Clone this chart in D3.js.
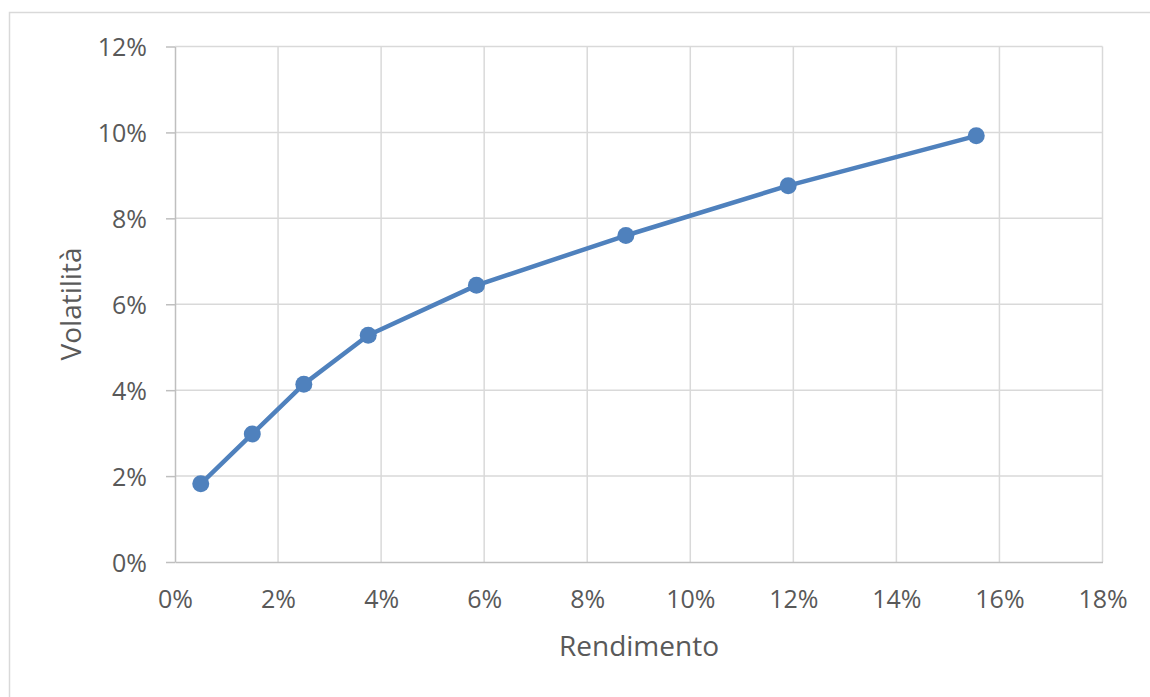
<!DOCTYPE html>
<html>
<head>
<meta charset="utf-8">
<script src="https://cdn.jsdelivr.net/npm/d3@7"></script>
<style>
  html, body { margin: 0; padding: 0; background: #fff; }
  svg { display: block; }
  text { font-family: "Open Sans", sans-serif; fill: #595959; }
</style>
</head>
<body>
<svg id="chart" width="1150" height="697"></svg>
<script>
// Rendimento (x) and Volatilità (y) of each portfolio, in percent
const rendimento = [0.5, 1.5, 2.5, 3.75, 5.85, 8.75, 11.9, 15.55];
const volatilita = [1.82, 2.98, 4.14, 5.28, 6.44, 7.60, 8.76, 9.92];
const xTicks = [0, 2, 4, 6, 8, 10, 12, 14, 16, 18];
const yTicks = [0, 2, 4, 6, 8, 10, 12];
const xTitle = "Rendimento";
const yTitle = "Volatilità";

const svg = d3.select("#chart");

// outer chart frame
svg.append("rect")
  .attr("x", 9.5).attr("y", 12.5)
  .attr("width", 1200).attr("height", 800)
  .attr("fill", "#fff").attr("stroke", "#d9d9d9").attr("stroke-width", 1.5);

const x = d3.scaleLinear().domain([0, 18]).range([175, 1102.5]);
const y = d3.scaleLinear().domain([0, 12]).range([562, 46.5]);
const fmt = d => d + "%";

const grid = svg.append("g");
// vertical gridlines
grid.selectAll("line.vx").data(xTicks.slice(1)).join("line")
  .attr("x1", d => x(d)).attr("x2", d => x(d))
  .attr("y1", y(12)).attr("y2", y(0))
  .attr("stroke", "#d9d9d9").attr("stroke-width", 1.5);
// horizontal gridlines
grid.selectAll("line.hy").data(yTicks.slice(1)).join("line")
  .attr("x1", x(0)).attr("x2", x(18))
  .attr("y1", d => y(d)).attr("y2", d => y(d))
  .attr("stroke", "#d9d9d9").attr("stroke-width", 1.5);

// y axis with outward ticks
const yAxis = svg.append("g")
  .attr("transform", `translate(${x(0)},0)`)
  .call(d3.axisLeft(y).tickValues(yTicks).tickFormat(fmt).tickSize(9).tickPadding(19).tickSizeOuter(0));
yAxis.select(".domain").attr("stroke", "#bfbfbf").attr("stroke-width", 1.5);
yAxis.selectAll(".tick line").attr("stroke", "#bfbfbf").attr("stroke-width", 1.5);
yAxis.selectAll(".tick text")
  .attr("font-size", 25).attr("font-family", "Open Sans, sans-serif")
  .attr("fill", "#595959").attr("dy", null).attr("y", 9);

// x axis
const xAxis = svg.append("g")
  .attr("transform", `translate(0,${y(0)})`)
  .call(d3.axisBottom(x).tickValues(xTicks).tickFormat(fmt).tickSize(0).tickSizeOuter(0));
xAxis.select(".domain").attr("stroke", "#bfbfbf").attr("stroke-width", 1.5);
xAxis.selectAll(".tick text")
  .attr("font-size", 25).attr("font-family", "Open Sans, sans-serif")
  .attr("fill", "#595959").attr("dy", null).attr("y", 46);

// axis titles
svg.append("text")
  .attr("x", 639).attr("y", 656)
  .attr("text-anchor", "middle").attr("font-size", 28)
  .text(xTitle);
svg.append("text")
  .attr("transform", "translate(81,304) rotate(-90)")
  .attr("text-anchor", "middle").attr("font-size", 28)
  .text(yTitle);

// series line and markers
const pts = rendimento.map((r, i) => [r, volatilita[i]]);
const color = "#4f81bd";
svg.append("path")
  .datum(pts)
  .attr("d", d3.line().x(d => x(d[0])).y(d => y(d[1])))
  .attr("fill", "none").attr("stroke", color)
  .attr("stroke-width", 4.5).attr("stroke-linejoin", "round");
svg.selectAll("circle.pt").data(pts).join("circle")
  .attr("cx", d => x(d[0])).attr("cy", d => y(d[1]))
  .attr("r", 8.5).attr("fill", color);
</script>
</body>
</html>
